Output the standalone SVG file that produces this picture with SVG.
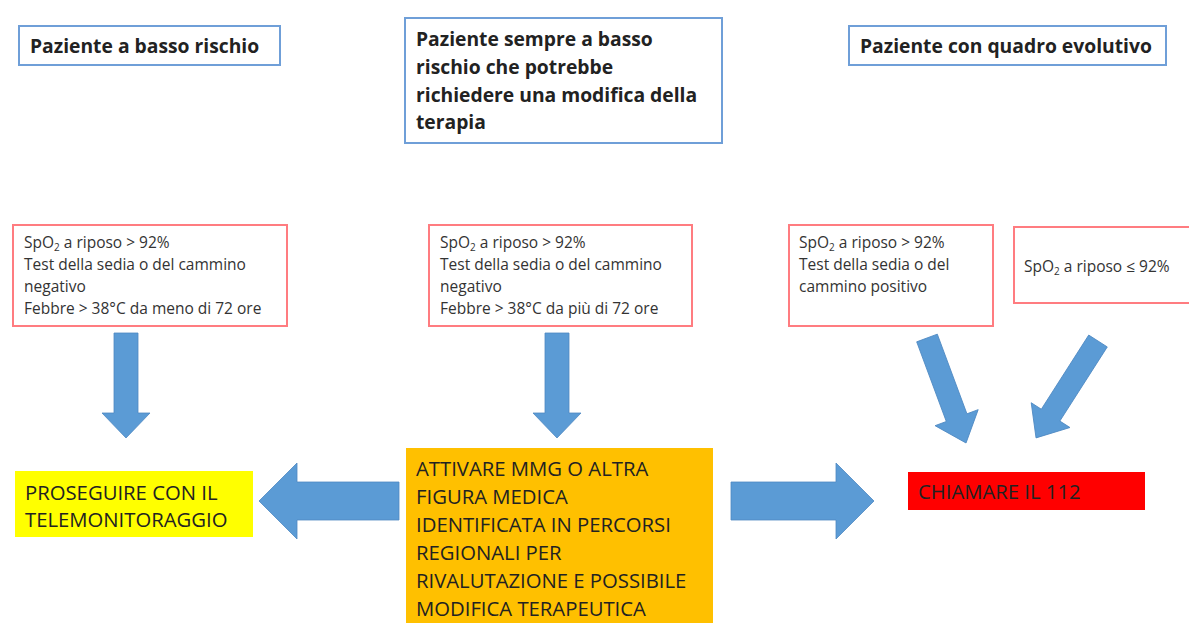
<svg xmlns="http://www.w3.org/2000/svg" width="1189" height="623" viewBox="0 0 1189 623">
<defs>
<style>
.title{fill:#fff;stroke:#6f9fd8;stroke-width:2}
.crit{fill:#fff;stroke:#ff7c80;stroke-width:2}
.tb{font-family:"Open Sans","Liberation Sans",sans-serif;font-weight:bold;font-size:19.3px;fill:#222}
.tc{font-family:"Open Sans","Liberation Sans",sans-serif;font-size:15.5px;fill:#333}
.ta{font-family:"Open Sans","Liberation Sans",sans-serif;font-size:20.3px;fill:#222}
.sub{font-size:10px}
.arr{fill:#5b9bd5;stroke:#4e88c2;stroke-width:0.8}
</style>
<path id="down" d="M-12,0 H12 V80 H24 L0,105 L-24,80 H-12 Z"/>
<path id="diag1" d="M-11,0 H11 V85 H23 L0,112 L-23,85 H-11 Z"/>
<path id="diag2" d="M-11,0 H11 V88 H23 L0,115 L-23,88 H-11 Z"/>
</defs>
<rect width="1189" height="623" fill="#fff"/>

<g id="title1">
<rect class="title" x="19" y="26" width="261" height="39"/>
<text class="tb" x="30" y="53">Paziente a basso rischio</text>
</g>
<g id="title2">
<rect class="title" x="405" y="18" width="317" height="125"/>
<text class="tb" x="416" y="46">Paziente sempre a basso</text>
<text class="tb" x="416" y="74">rischio che potrebbe</text>
<text class="tb" x="416" y="102">richiedere una modifica della</text>
<text class="tb" x="416" y="129">terapia</text>
</g>
<g id="title3">
<rect class="title" x="849" y="26" width="317" height="39"/>
<text class="tb" x="860" y="53">Paziente con quadro evolutivo</text>
</g>

<g id="critA">
<rect class="crit" x="13" y="225" width="274" height="101"/>
<text class="tc" x="24" y="248">SpO<tspan class="sub" dy="3">2</tspan><tspan dy="-3"> a riposo &gt; 92%</tspan></text>
<text class="tc" x="24" y="270">Test della sedia o del cammino</text>
<text class="tc" x="24" y="292">negativo</text>
<text class="tc" x="24" y="314">Febbre &gt; 38°C da meno di 72 ore</text>
</g>
<g id="critB">
<rect class="crit" x="429" y="225" width="263" height="101"/>
<text class="tc" x="440" y="248">SpO<tspan class="sub" dy="3">2</tspan><tspan dy="-3"> a riposo &gt; 92%</tspan></text>
<text class="tc" x="440" y="270">Test della sedia o del cammino</text>
<text class="tc" x="440" y="292">negativo</text>
<text class="tc" x="440" y="314">Febbre &gt; 38°C da più di 72 ore</text>
</g>
<g id="critC">
<rect class="crit" x="789" y="225" width="204" height="101"/>
<text class="tc" x="799" y="248">SpO<tspan class="sub" dy="3">2</tspan><tspan dy="-3"> a riposo &gt; 92%</tspan></text>
<text class="tc" x="799" y="270">Test della sedia o del</text>
<text class="tc" x="799" y="292">cammino positivo</text>
</g>
<g id="critD">
<rect class="crit" x="1014" y="227" width="185" height="76"/>
<text class="tc" x="1024" y="272">SpO<tspan class="sub" dy="3">2</tspan><tspan dy="-3"> a riposo ≤ 92%</tspan></text>
</g>

<g id="continue">
<rect x="15" y="471" width="238" height="66" fill="#ffff00"/>
<text class="ta" x="25" y="500">PROSEGUIRE CON IL</text>
<text class="ta" x="25" y="527">TELEMONITORAGGIO</text>
</g>
<g id="activate">
<rect x="406" y="448" width="307" height="180" fill="#ffc000"/>
<text class="ta" x="416" y="476">ATTIVARE MMG O ALTRA</text>
<text class="ta" x="416" y="504">FIGURA MEDICA</text>
<text class="ta" x="416" y="532">IDENTIFICATA IN PERCORSI</text>
<text class="ta" x="416" y="560">REGIONALI PER</text>
<text class="ta" x="416" y="588">RIVALUTAZIONE E POSSIBILE</text>
<text class="ta" x="416" y="616">MODIFICA TERAPEUTICA</text>
</g>
<g id="call112">
<rect x="908" y="472" width="237" height="38" fill="#ff0000"/>
<text class="ta" x="918" y="499">CHIAMARE IL 112</text>
</g>

<g id="connectors">
<use href="#down" class="arr" transform="translate(126,333)"/>
<use href="#down" class="arr" transform="translate(557,333)"/>
<use href="#diag1" class="arr" transform="translate(927,338) rotate(-20.4)"/>
<use href="#diag2" class="arr" transform="translate(1098,341) rotate(32.6)"/>
<path class="arr" d="M399,482 H297 V463 L259,501 L297,539 V520 H399 Z"/>
<path class="arr" d="M731,482 H836 V463 L874,501 L836,539 V520 H731 Z"/>
</g>
</svg>
